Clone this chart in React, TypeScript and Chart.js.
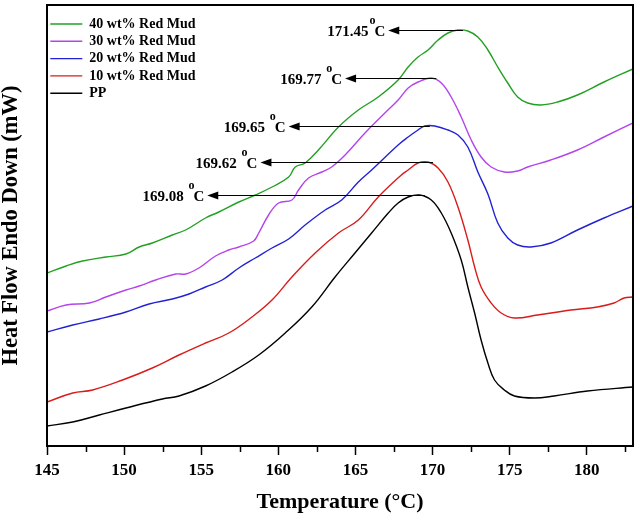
import { useEffect, useRef } from "react";
import { Chart, registerables } from "chart.js";

Chart.register(...registerables);

const FONT = "'Liberation Serif', 'Times New Roman', serif";

// Temperatures (°C) and heat flow (arbitrary units)
const ppTemps = [145.0, 146.67, 148.39, 150.12, 152.48, 153.56, 155.28, 157.0, 158.73, 160.45, 162.17, 163.68, 164.97, 166.05, 167.13, 167.77, 168.42, 169.17, 169.92, 170.57, 171.21, 171.86, 172.29, 172.73, 173.15, 173.59, 174.02, 174.66, 175.31, 176.6, 177.89, 180.05, 183.0];
const ppValues = [20, 24, 31, 38, 47, 50, 60, 74, 91, 113, 139, 169, 193, 213, 233, 243, 249, 251, 246, 233, 213, 186, 159, 133, 106, 83, 66, 56, 50, 48, 50, 55, 59];

const red10Temps = [145.0, 146.67, 147.96, 149.9, 151.83, 153.56, 155.28, 156.79, 158.29, 159.59, 160.88, 162.39, 163.9, 165.19, 166.48, 167.98, 168.42, 169.06, 169.71, 170.36, 171.0, 171.65, 172.29, 172.73, 173.15, 173.8, 174.45, 175.31, 176.81, 178.97, 180.69, 181.77, 182.42, 183.0];
const red10Values = [44, 53, 56, 66, 78, 91, 103, 113, 129, 146, 169, 193, 213, 226, 249, 271, 276, 283, 284, 278, 264, 239, 206, 179, 159, 143, 133, 128, 131, 136, 139, 143, 148, 149];

const red20Temps = [145.0, 146.67, 148.39, 150.12, 151.62, 153.13, 154.21, 155.28, 156.36, 157.44, 158.51, 159.59, 160.67, 161.74, 163.04, 164.11, 165.19, 166.05, 167.77, 168.42, 169.06, 169.5, 170.14, 171.0, 171.65, 172.29, 172.94, 173.59, 174.23, 174.88, 175.52, 176.38, 177.67, 179.4, 181.12, 183.0];
const red20Values = [114, 121, 127, 134, 142, 147, 152, 159, 166, 178, 188, 198, 207, 221, 236, 246, 264, 276, 301, 309, 316, 320, 320, 316, 311, 299, 274, 252, 223, 208, 201, 199, 203, 216, 228, 240];

const red30Temps = [145.0, 146.24, 147.75, 148.82, 150.12, 150.98, 152.05, 153.35, 153.99, 154.85, 155.93, 156.79, 157.44, 158.4, 158.73, 159.37, 160.02, 160.88, 161.31, 161.96, 162.82, 163.46, 164.33, 165.62, 166.91, 167.77, 168.42, 169.06, 169.92, 170.57, 171.21, 171.86, 172.51, 173.15, 173.8, 174.66, 175.52, 176.17, 177.67, 179.4, 181.12, 183.0];
const red30Values = [135, 141, 143, 149, 156, 160, 166, 172, 172, 178, 190, 196, 199, 205, 213, 231, 243, 246, 256, 268, 274, 279, 291, 313, 333, 346, 358, 364, 368, 363, 349, 329, 306, 289, 279, 274, 275, 279, 286, 296, 309, 323];

const red40Temps = [145.0, 146.24, 147.31, 148.82, 150.12, 150.98, 151.83, 153.13, 153.99, 155.28, 156.14, 157.44, 158.51, 159.59, 160.67, 161.1, 161.74, 162.6, 163.9, 165.19, 166.48, 167.77, 168.42, 169.06, 169.71, 170.36, 171.0, 171.65, 172.29, 172.94, 173.59, 174.23, 174.88, 175.52, 176.17, 177.03, 178.11, 179.4, 181.12, 183.0];
const red40Values = [173, 180, 185, 189, 192, 199, 203, 211, 216, 228, 234, 244, 251, 259, 269, 279, 283, 296, 319, 336, 349, 366, 379, 389, 396, 406, 413, 416, 415, 409, 396, 379, 363, 349, 343, 341, 344, 351, 364, 377];

const seriesLabels = ["40 wt% Red Mud", "30 wt% Red Mud", "20 wt% Red Mud", "10 wt% Red Mud", "PP"];
const seriesColors = ["#22a022", "#b444ec", "#2222d4", "#d81c1c", "#000000"];

// peak temperature labels and where each arrow ends (°C), same order as series
const peakLabels = ["171.45", "169.77 ", "169.65 ", "169.62 ", "169.08 "];
const arrowTipTemps = [167.13, 164.33, 160.67, 158.84, 155.39];

const zip = (xs: number[], ys: number[]) => xs.map((x, i) => ({ x, y: ys[i] }));

const peakArrows = {
  id: "peakArrows",
  afterDatasetsDraw(chart: any) {
    const { ctx, chartArea, scales } = chart;
    const xs = scales.x;
    const ys = scales.y;
    ctx.save();

    // frame
    ctx.strokeStyle = "#000";
    ctx.lineWidth = 2;
    ctx.strokeRect(chartArea.left, chartArea.top, chartArea.width, chartArea.height);

    // minor ticks halfway between major ones
    const ticks = xs.ticks.map((t: any) => t.value);
    const step = ticks[1] - ticks[0];
    ctx.lineWidth = 1.5;
    ticks.forEach((v: number) => {
      const m = v + step / 2;
      if (m > xs.max) return;
      const px = Math.round(xs.getPixelForValue(m)) + 0.5;
      ctx.beginPath();
      ctx.moveTo(px, chartArea.bottom);
      ctx.lineTo(px, chartArea.bottom + 6);
      ctx.stroke();
    });

    // peak arrows + labels
    chart.data.datasets.forEach((ds: any, i: number) => {
      const pts = ds.data as { x: number; y: number }[];
      const peak = pts.reduce((a, b) => (b.y > a.y ? b : a));
      const x0 = xs.getPixelForValue(peak.x) + 5;
      const y0 = Math.round(ys.getPixelForValue(peak.y)) + 0.5;
      const tip = xs.getPixelForValue(arrowTipTemps[i]);

      ctx.strokeStyle = "#000";
      ctx.fillStyle = "#000";
      ctx.lineWidth = 1.2;
      ctx.beginPath();
      ctx.moveTo(x0, y0);
      ctx.lineTo(tip + 8, y0);
      ctx.stroke();
      ctx.beginPath();
      ctx.moveTo(tip, y0);
      ctx.lineTo(tip + 11, y0 - 4);
      ctx.lineTo(tip + 11, y0 + 4);
      ctx.closePath();
      ctx.fill();

      const base = y0 + 5;
      let right = tip - 3;
      ctx.textAlign = "right";
      ctx.textBaseline = "alphabetic";
      ctx.font = `bold 15px ${FONT}`;
      ctx.fillText("C", right, base);
      right -= ctx.measureText("C").width;
      ctx.font = `bold 12px ${FONT}`;
      ctx.fillText("o", right + 1, base - 12);
      right -= ctx.measureText("o").width;
      ctx.font = `bold 15px ${FONT}`;
      ctx.fillText(peakLabels[i], right, base);
    });

    ctx.restore();
  },
};

export default function App() {
  const canvasRef = useRef<HTMLCanvasElement>(null);
  const chartRef = useRef<Chart | null>(null);

  useEffect(() => {
    if (!canvasRef.current) return;
    if (chartRef.current) chartRef.current.destroy();

    const seriesData = [
      zip(red40Temps, red40Values),
      zip(red30Temps, red30Values),
      zip(red20Temps, red20Values),
      zip(red10Temps, red10Values),
      zip(ppTemps, ppValues),
    ];

    chartRef.current = new Chart(canvasRef.current, {
      type: "line",
      data: {
        datasets: seriesData.map((data, i) => ({
          label: seriesLabels[i],
          data,
          borderColor: seriesColors[i],
          backgroundColor: seriesColors[i],
          borderWidth: 1.4,
          pointRadius: 0,
          tension: 0.4,
          fill: false,
        })),
      },
      options: {
        animation: false,
        responsive: true,
        maintainAspectRatio: false,
        layout: { padding: { top: 5, right: 7, left: 0, bottom: 0 } },
        plugins: {
          legend: {
            position: "chartArea" as any,
            align: "start",
            // empty title only pushes the entries down a little
            title: { display: true, text: "", font: { size: 1 }, padding: { top: 12.5, bottom: 0 } },
            labels: {
              usePointStyle: true,
              pointStyle: "line",
              pointStyleWidth: 32,
              padding: 3.3,
              color: "#000",
              font: { family: FONT, size: 14, weight: "bold" },
            },
          },
          tooltip: { enabled: false },
        },
        scales: {
          x: {
            type: "linear",
            min: 145,
            max: 183,
            afterFit: (scale: any) => {
              scale.height = 74;
            },
            ticks: {
              stepSize: 5,
              includeBounds: false,
              autoSkip: false,
              maxRotation: 0,
              padding: 5,
              color: "#000",
              font: { family: FONT, size: 17, weight: "bold" },
            },
            grid: {
              drawOnChartArea: false,
              drawTicks: true,
              tickLength: 9,
              tickColor: "#000",
              tickWidth: 1.5,
            },
            border: { display: false },
            title: {
              display: true,
              text: "Temperature (°C)",
              color: "#000",
              padding: { top: 0, bottom: 4 },
              font: { family: FONT, size: 22, weight: "bold" },
            },
          },
          y: {
            min: 0,
            max: 441,
            afterFit: (scale: any) => {
              scale.width = 47;
            },
            ticks: { display: false },
            grid: { display: false },
            border: { display: false },
            title: {
              display: true,
              text: "Heat Flow Endo Down (mW)",
              color: "#000",
              padding: { top: 0, bottom: 0 },
              font: { family: FONT, size: 22.5, weight: "bold", lineHeight: 1 },
            },
          },
        },
      },
      plugins: [peakArrows],
    });

    return () => {
      if (chartRef.current) {
        chartRef.current.destroy();
        chartRef.current = null;
      }
    };
  }, []);

  return (
    <div style={{ position: "absolute", left: 0, top: 0, width: 640, height: 520, background: "#fff" }}>
      <canvas ref={canvasRef}></canvas>
    </div>
  );
}
